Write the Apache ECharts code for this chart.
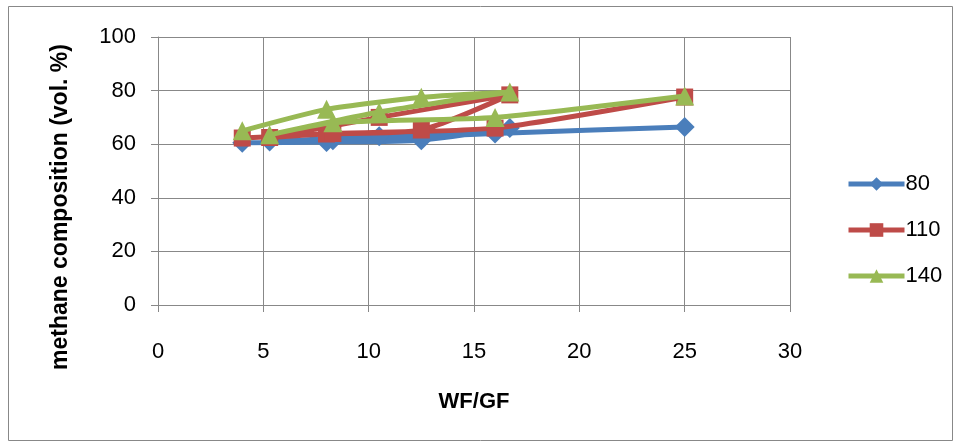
<!DOCTYPE html>
<html><head><meta charset="utf-8">
<script src="https://cdn.jsdelivr.net/npm/echarts@6/dist/echarts.min.js"></script>
<style>html,body{margin:0;padding:0;background:#fff}#c{width:956px;height:446px}</style>
</head><body><div id="c"></div>
<script>
const wfgf = [4, 8, 12.5, 16.7, 10.5, 5.3, 8.3, 16, 25];
const s80  = [60.5, 60.8, 61.5, 66, 63, 61, 61.5, 64, 66.4];
const s110 = [62.3, 63.8, 65.3, 78.4, 70, 62.5, 64, 66, 77.6];
const s140 = [65, 73, 77.5, 79.5, 72, 63.5, 68, 70, 78];
const seriesNames = ['80', '110', '140'];
const xTicks = [0, 5, 10, 15, 20, 25, 30];
const yTicks = [0, 20, 40, 60, 80, 100];
const yTitle = 'methane composition (vol. %)';
const xTitle = 'WF/GF';

const colors = ['#4A7EBB', '#BE4B48', '#98B954'];
const symbols = ['diamond', 'rect', 'triangle'];
const sizes = [20, 17, 19];
const font = 'Liberation Sans, Arial, sans-serif';
const pair = v => wfgf.map((x, i) => [x, v[i]]);

const chart = echarts.init(document.getElementById('c'));
chart.setOption({
  animation: false,
  backgroundColor: '#fff',
  graphic: [
    {type: 'rect', shape: {x: 8.5, y: 6.5, width: 944, height: 434}, style: {fill: 'none', stroke: '#888', lineWidth: 1}, silent: true},
    {type: 'text', x: 61, y: 207, rotation: Math.PI / 2, silent: true,
     style: {text: yTitle, font: 'bold 23px Liberation Sans, Arial, sans-serif', fill: '#000', align: 'center', verticalAlign: 'middle'}}
  ],
  grid: {left: 158, right: 166, top: 37, bottom: 141},
  xAxis: {
    type: 'value', min: xTicks[0], max: xTicks[xTicks.length - 1], interval: 5,
    name: xTitle, nameLocation: 'middle', nameGap: 86,
    nameTextStyle: {fontFamily: font, fontWeight: 'bold', fontSize: 22, color: '#000'},
    axisLine: {show: true, lineStyle: {color: '#888', width: 1}},
    axisTick: {show: true, length: 7, lineStyle: {color: '#888'}},
    axisLabel: {fontFamily: font, fontSize: 22, color: '#000', margin: 36},
    splitLine: {show: true, lineStyle: {color: '#888', width: 1}}
  },
  yAxis: {
    type: 'value', min: yTicks[0], max: yTicks[yTicks.length - 1], interval: 20,
    axisLine: {show: true, lineStyle: {color: '#888', width: 1}},
    axisTick: {show: true, length: 7, lineStyle: {color: '#888'}},
    axisLabel: {fontFamily: font, fontSize: 22, color: '#000', margin: 22},
    splitLine: {show: true, lineStyle: {color: '#888', width: 1}}
  },
  legend: {
    orient: 'vertical', left: 841, top: 168, itemGap: 24,
    itemWidth: 56, itemHeight: 17,
    lineStyle: {width: 5},
    textStyle: {fontFamily: font, fontSize: 22, color: '#000', padding: [0, 0, 0, -4]},
    data: seriesNames
  },
  series: [s80, s110, s140].map((v, i) => ({
    name: seriesNames[i], type: 'line', data: pair(v),
    smooth: 0.2,
    symbol: symbols[i], symbolSize: sizes[i],
    lineStyle: {color: colors[i], width: 5},
    itemStyle: {color: colors[i]},
    z: 2 + i
  }))
});
</script></body></html>
